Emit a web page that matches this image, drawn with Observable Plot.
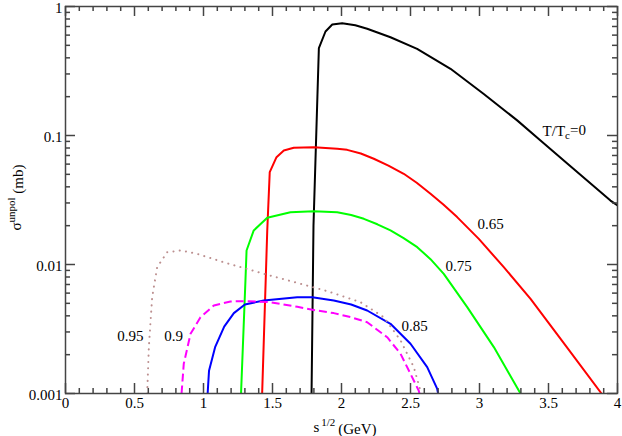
<!DOCTYPE html>
<html>
<head>
<meta charset="utf-8">
<script src="https://cdn.jsdelivr.net/npm/d3@7"></script>
<script src="https://cdn.jsdelivr.net/npm/@observablehq/plot@0.6"></script>
<style>
  html, body { margin: 0; padding: 0; background: white; }
  svg text, svg tspan { font-family: "Liberation Serif", "Times New Roman", serif !important; }
</style>
</head>
<body>
<div id="chart"></div>
<script>
// ---- data ----
const tc0X  = [1.783, 1.797, 1.836, 1.884, 1.933, 2.005, 2.10, 2.186, 2.355, 2.548, 2.79, 3.031, 3.273, 3.442, 3.636, 3.949, 4.0];
const tc0Y  = [0.001, 0.02, 0.475, 0.64, 0.725, 0.743, 0.715, 0.672, 0.578, 0.47, 0.329, 0.21, 0.131, 0.0915, 0.0607, 0.0313, 0.0287];

const t065X = [1.425, 1.462, 1.48, 1.529, 1.582, 1.654, 1.80, 1.969, 2.041, 2.14, 2.234, 2.34, 2.451, 2.545, 2.645, 2.74, 2.838, 2.995, 3.176, 3.370, 3.623, 3.884];
const t065Y = [0.001, 0.0184, 0.052, 0.0679, 0.0765, 0.0803, 0.0811, 0.0788, 0.0774, 0.0725, 0.0660, 0.0585, 0.0505, 0.0430, 0.0353, 0.0290, 0.0233, 0.0158, 0.00953, 0.00542, 0.00236, 0.001];

const t075X = [1.272, 1.304, 1.312, 1.364, 1.462, 1.630, 1.799, 1.969, 2.07, 2.162, 2.26, 2.355, 2.45, 2.549, 2.645, 2.741, 2.911, 3.104, 3.297];
const t075Y = [0.001, 0.00752, 0.01284, 0.01836, 0.0230, 0.0254, 0.0259, 0.0254, 0.0242, 0.0226, 0.0205, 0.01836, 0.0160, 0.01362, 0.0110, 0.00847, 0.00467, 0.00229, 0.001];

const t085X = [1.03, 1.04, 1.085, 1.15, 1.22, 1.30, 1.437, 1.679, 1.788, 1.944, 2.07, 2.186, 2.355, 2.5, 2.621, 2.693, 2.70];
const t085Y = [0.001, 0.0015, 0.0023, 0.0033, 0.0042, 0.0049, 0.00526, 0.00558, 0.00558, 0.00526, 0.00490, 0.00440, 0.00347, 0.00243, 0.0016, 0.00109, 0.001];

const t090X = [0.841, 0.857, 0.906, 0.978, 1.075, 1.196, 1.317, 1.486, 1.68, 1.82, 1.944, 2.07, 2.186, 2.331, 2.428, 2.5, 2.56, 2.565];
const t090Y = [0.001, 0.0017, 0.0029, 0.0039, 0.00481, 0.00517, 0.0052, 0.0051, 0.0047, 0.0044, 0.0042, 0.0039, 0.00357, 0.00273, 0.00203, 0.00142, 0.00105, 0.001];

const t095X = [0.592, 0.604, 0.628, 0.664, 0.737, 0.833, 0.954, 1.147, 1.437, 1.70, 1.90, 2.138, 2.307, 2.428, 2.524, 2.572, 2.576];
const t095Y = [0.001, 0.00229, 0.00558, 0.00953, 0.01245, 0.01284, 0.0121, 0.0104, 0.00847, 0.0071, 0.0062, 0.0051, 0.0039, 0.00258, 0.0016, 0.00105, 0.001];

const labelText = ["T/Tc=0", "0.65", "0.75", "0.85", "0.9", "0.95"];
const labelX    = [3.457, 3.08, 2.848, 2.529, 0.783, 0.471];
const labelY    = [0.108, 0.0204, 0.00964, 0.0033, 0.00277, 0.00277];
const labelAnchor = ["start", "middle", "middle", "middle", "middle", "middle"];

const xMajor = [0, 0.5, 1, 1.5, 2, 2.5, 3, 3.5, 4];
const xMinor = [0.1, 0.2, 0.3, 0.4, 0.6, 0.7, 0.8, 0.9, 1.1, 1.2, 1.3, 1.4, 1.6, 1.7, 1.8, 1.9,
                2.1, 2.2, 2.3, 2.4, 2.6, 2.7, 2.8, 2.9, 3.1, 3.2, 3.3, 3.4, 3.6, 3.7, 3.8, 3.9];
const xTickLabels = ["0", "0.5", "1", "1.5", "2", "2.5", "3", "3.5", "4"];
const yMajor = [0.001, 0.01, 0.1, 1];
const yMinor = [0.002, 0.003, 0.004, 0.005, 0.006, 0.007, 0.008, 0.009,
                0.02, 0.03, 0.04, 0.05, 0.06, 0.07, 0.08, 0.09,
                0.2, 0.3, 0.4, 0.5, 0.6, 0.7, 0.8, 0.9];
const yTickLabels = ["0.001", "0.01", "0.1", "1"];

// ---- build tables ----
const mk = (xs, ys) => xs.map((x, i) => ({x, y: ys[i]}));
const series = [
  {data: mk(tc0X, tc0Y),   stroke: "#000000", dash: null, cap: "butt"},
  {data: mk(t065X, t065Y), stroke: "#ff0000", dash: null, cap: "butt"},
  {data: mk(t075X, t075Y), stroke: "#00ff00", dash: null, cap: "butt"},
  {data: mk(t085X, t085Y), stroke: "#0000ff", dash: null, cap: "butt"},
  {data: mk(t090X, t090Y), stroke: "#ff00ff", dash: "8,4", cap: "butt"},
  {data: mk(t095X, t095Y), stroke: "#bc8f8f", dash: "0.1,6.2", cap: "round"}
];
const labels = labelText.map((t, i) => ({t, x: labelX[i], y: labelY[i], a: labelAnchor[i]}));

const W = 622, H = 436, mL = 65, mR = 5, mT = 6, mB = 43;
const innerW = W - mL - mR, innerH = H - mT - mB;
const major = 10, minor = 5, tickColor = "#444";
const serif = "'Liberation Serif', 'Times New Roman', serif";

const chart = Plot.plot({
  width: W, height: H,
  marginLeft: mL, marginRight: mR, marginTop: mT, marginBottom: mB,
  style: {fontFamily: serif, fontSize: "15px", background: "white", color: "black", overflow: "visible"},
  x: {domain: [0, 4]},
  y: {type: "log", domain: [0.001, 1]},
  marks: [
    ...series.map(s => Plot.line(s.data, {x: "x", y: "y", stroke: s.stroke, strokeWidth: 2,
      strokeDasharray: s.dash, strokeLinecap: s.cap, clip: true})),
    Plot.text(labels.filter(d => d.a === "middle"), {x: "x", y: "y", text: "t", textAnchor: "middle", fill: "black", fontSize: 15}),
    Plot.text(labels.filter(d => d.a === "start"), {x: "x", y: "y", text: "t", textAnchor: "start", fill: "black", fontSize: 15}),
    // ticks (inward)
    Plot.ruleX(xMajor, {x: d => d, insetTop: innerH - major, stroke: tickColor, strokeWidth: 1.5}),
    Plot.ruleX(xMinor, {x: d => d, insetTop: innerH - minor, stroke: tickColor, strokeWidth: 1.5}),
    Plot.ruleX(xMajor, {x: d => d, insetBottom: innerH - major, stroke: tickColor, strokeWidth: 1.5}),
    Plot.ruleX(xMinor, {x: d => d, insetBottom: innerH - minor, stroke: tickColor, strokeWidth: 1.5}),
    Plot.ruleY(yMajor, {y: d => d, insetRight: innerW - major, stroke: tickColor, strokeWidth: 1.5}),
    Plot.ruleY(yMinor, {y: d => d, insetRight: innerW - minor, stroke: tickColor, strokeWidth: 1.5}),
    Plot.ruleY(yMajor, {y: d => d, insetLeft: innerW - major, stroke: tickColor, strokeWidth: 1.5}),
    Plot.ruleY(yMinor, {y: d => d, insetLeft: innerW - minor, stroke: tickColor, strokeWidth: 1.5}),
    Plot.axisX(xMajor, {tickSize: 0, tickPadding: 4, label: null, fontSize: 15,
      tickFormat: d => xTickLabels[xMajor.indexOf(d)]}),
    Plot.axisY(yMajor, {tickSize: 0, tickPadding: 3, dy: 1.5, label: null, fontSize: 15,
      tickFormat: d => yTickLabels[yMajor.indexOf(d)]}),
    Plot.frame({stroke: tickColor, strokeWidth: 1.5})
  ]
});

const svg = d3.select(chart);
// subscript on T/Tc=0
svg.selectAll("text").filter(function() { return this.textContent === "T/Tc=0"; })
  .each(function() {
    const t = d3.select(this);
    t.text(null);
    t.append("tspan").text("T/T");
    t.append("tspan").attr("dy", "0.3em").attr("font-size", 11).text("c");
    t.append("tspan").attr("dy", "-0.3em").text("=0");
  });

// axis titles
const xs = chart.scale("x"), ys = chart.scale("y");
const xT = svg.append("text")
  .attr("x", (xs.apply(0) + xs.apply(4)) / 2 + 4)
  .attr("y", H - 4)
  .attr("text-anchor", "middle")
  .attr("font-size", 15)
  .attr("font-family", serif);
xT.append("tspan").text("s");
xT.append("tspan").attr("dy", "-0.55em").attr("dx", 2).attr("font-size", 11).text("1/2");
xT.append("tspan").attr("dy", "0.55em").attr("dx", 3).text("(GeV)");

const yMid = (ys.apply(0.001) + ys.apply(1)) / 2;
const yT = svg.append("text")
  .attr("transform", `translate(21,${yMid - 2}) rotate(-90)`)
  .attr("text-anchor", "middle")
  .attr("font-size", 15)
  .attr("font-family", serif);
yT.append("tspan").text("σ");
yT.append("tspan").attr("dy", "-0.55em").attr("font-size", 11).text("unpol");
yT.append("tspan").attr("dy", "0.55em").text(" (mb)");

document.getElementById("chart").appendChild(chart);
</script>
</body>
</html>
